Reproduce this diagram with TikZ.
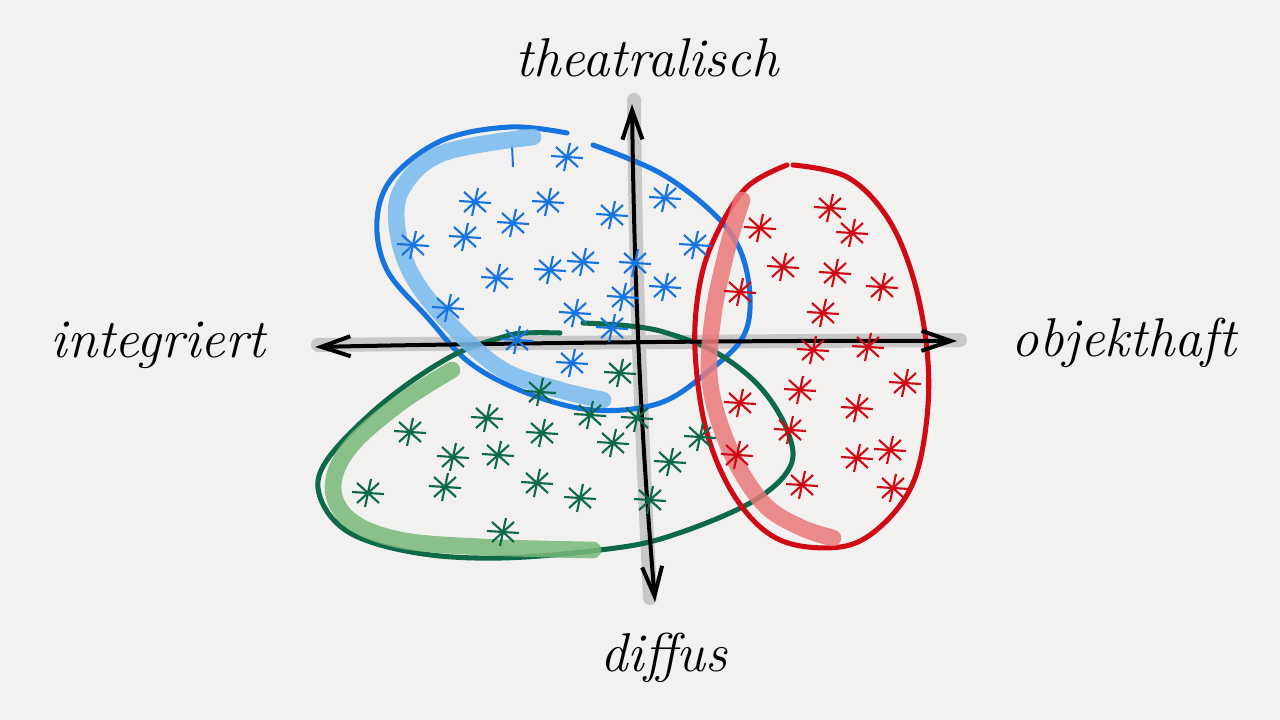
\documentclass[tikz,border=0pt]{standalone}
\usepackage{tikz}
\usetikzlibrary{arrows.meta}

\definecolor{paper}{RGB}{243,241,239}
\definecolor{penblue}{RGB}{22,116,224}
\definecolor{pengreen}{RGB}{12,106,72}
\definecolor{penred}{RGB}{208,10,20}
\definecolor{markblue}{RGB}{120,186,240}
\definecolor{markgreen}{RGB}{120,184,120}
\definecolor{markred}{RGB}{234,120,122}
\definecolor{shadow}{RGB}{200,200,200}

\tikzset{every picture/.style={line width=0.75pt}}
\tikzset{
  axis/.style={line width=3pt, line cap=round, {Straight Barb[length=22pt,width=15pt,line width=3pt]}-{Straight Barb[length=22pt,width=15pt,line width=3pt]}},
  axisshade/.style={line width=10.5pt, line cap=round, shadow},
  loop/.style={line width=3.8pt, line cap=round},
  marker/.style={line width=12.5pt, line cap=round, opacity=0.85},
  handlabel/.style={font=\fontsize{41}{43}\selectfont\itshape},
  asterisk/.pic={
    \draw (-16,1) -- (16,-1);
    \draw (-3,-14) -- (3,14);
    \draw (-11,-10) -- (11,10);
    \draw (-11,10) -- (11,-10);
  },
  bluestar/.style={line width=1.6pt, draw=penblue},
  greenstar/.style={line width=1.6pt, draw=pengreen},
  redstar/.style={line width=1.6pt, draw=penred}
}

\begin{document}
\begin{tikzpicture}[x=0.75pt,y=0.75pt,yscale=-1,xscale=1]
		\fill[paper] (0,0) rectangle (1280,720);
		\useasboundingbox (0,0) rectangle (1280,720);
		% Axis ends
		\coordinate (top) at (632,104);
		\coordinate (bottom) at (655,602);
		\coordinate (left) at (315,347);
		\coordinate (right) at (957,341);
		%Shape: Axis shadows
		\draw[axisshade] (634,100) .. controls (636,330) and (644,470) .. (650,598);
		\draw[axisshade] (318,345) .. controls (500,343) and (800,341) .. (960,340);
		%Shape: Blue loop
		\draw[loop, penblue] plot[smooth, tension=0.6] coordinates {(593,145) (660,173) (713,213) (740,250) (750,297) (743,337) (710,370) (660,403) (593,410) (527,393) (470,363) (427,317) (387,270) (377,220) (393,177) (443,140) (510,127) (567,133)};
		\draw[penblue, line width=1.5pt] (512,145) -- (513,167);
		%Shape: Green loop
		\draw[loop, pengreen] plot[smooth, tension=0.6] coordinates {(560,333) (527,333) (503,337) (450,357) (383,403) (327,460) (320,497) (350,533) (417,553) (500,558) (600,550) (667,537) (750,503) (790,467) (787,430) (760,387) (717,353) (667,333) (630,326) (583,323)};
		%Shape: Red loop
		\draw[loop, penred] plot[smooth, tension=0.6] coordinates {(793,165) (847,177) (887,217) (913,277) (927,350) (927,417) (913,483) (880,527) (840,547) (780,540) (737,500) (707,433) (695,350) (700,283) (717,233) (747,187) (787,165)};
		%Shape: Axes
		\draw[axis] (top) .. controls (635,340) and (645,480) .. (bottom);
		\draw[axis] (left) .. controls (500,343) and (800,340) .. (right);
		%Shape: Markers
		\draw[marker, markblue] plot[smooth, tension=0.6] coordinates {(533,137) (443,153) (403,187) (397,227) (413,277) (453,327) (503,370) (560,390) (603,400)};
		\draw[marker, markgreen] plot[smooth, tension=0.6] coordinates {(452,370) (400,403) (350,447) (333,487) (350,520) (400,540) (483,547) (593,550)};
		\draw[marker, markred] plot[smooth, tension=0.6] coordinates {(742,200) (727,250) (713,317) (710,383) (730,450) (763,503) (800,527) (833,538)};
		% Blue stars
		\pic[bluestar] at (567,157) {asterisk};
		\pic[bluestar] at (475,202) {asterisk};
		\pic[bluestar] at (548,202) {asterisk};
		\pic[bluestar] at (513,223) {asterisk};
		\pic[bluestar] at (465,237) {asterisk};
		\pic[bluestar] at (413,245) {asterisk};
		\pic[bluestar] at (612,215) {asterisk};
		\pic[bluestar] at (665,198) {asterisk};
		\pic[bluestar] at (695,245) {asterisk};
		\pic[bluestar] at (497,278) {asterisk};
		\pic[bluestar] at (550,270) {asterisk};
		\pic[bluestar] at (583,262) {asterisk};
		\pic[bluestar] at (635,263) {asterisk};
		\pic[bluestar] at (665,287) {asterisk};
		\pic[bluestar] at (623,297) {asterisk};
		\pic[bluestar] at (575,313) {asterisk};
		\pic[bluestar] at (448,308) {asterisk};
		\pic[bluestar] at (517,340) {asterisk};
		\pic[bluestar] at (612,328) {asterisk};
		\pic[bluestar] at (572,363) {asterisk};
		% Green stars
		\pic[greenstar] at (620,373) {asterisk};
		\pic[greenstar] at (540,392) {asterisk};
		\pic[greenstar] at (590,415) {asterisk};
		\pic[greenstar] at (637,418) {asterisk};
		\pic[greenstar] at (487,418) {asterisk};
		\pic[greenstar] at (410,432) {asterisk};
		\pic[greenstar] at (542,433) {asterisk};
		\pic[greenstar] at (453,457) {asterisk};
		\pic[greenstar] at (498,455) {asterisk};
		\pic[greenstar] at (613,443) {asterisk};
		\pic[greenstar] at (700,437) {asterisk};
		\pic[greenstar] at (670,462) {asterisk};
		\pic[greenstar] at (368,493) {asterisk};
		\pic[greenstar] at (445,487) {asterisk};
		\pic[greenstar] at (537,483) {asterisk};
		\pic[greenstar] at (580,498) {asterisk};
		\pic[greenstar] at (650,500) {asterisk};
		\pic[greenstar] at (503,532) {asterisk};
		% Red stars
		\pic[redstar] at (830,208) {asterisk};
		\pic[redstar] at (852,233) {asterisk};
		\pic[redstar] at (760,228) {asterisk};
		\pic[redstar] at (783,267) {asterisk};
		\pic[redstar] at (835,273) {asterisk};
		\pic[redstar] at (882,287) {asterisk};
		\pic[redstar] at (740,292) {asterisk};
		\pic[redstar] at (823,313) {asterisk};
		\pic[redstar] at (813,350) {asterisk};
		\pic[redstar] at (868,347) {asterisk};
		\pic[redstar] at (800,390) {asterisk};
		\pic[redstar] at (905,383) {asterisk};
		\pic[redstar] at (857,408) {asterisk};
		\pic[redstar] at (740,403) {asterisk};
		\pic[redstar] at (790,430) {asterisk};
		\pic[redstar] at (737,455) {asterisk};
		\pic[redstar] at (857,458) {asterisk};
		\pic[redstar] at (890,450) {asterisk};
		\pic[redstar] at (893,488) {asterisk};
		\pic[redstar] at (802,485) {asterisk};
		% Text Node
		\node[handlabel] (theatralisch) at (647,58) {theatralisch};
		% Text Node
		\node[handlabel] (integriert) at (158,345) {integriert};
		% Text Node
		\node[handlabel] (objekthaft) at (1124,343) {objekthaft};
		% Text Node
		\node[handlabel] (diffus) at (664,658) {diffus};
\end{tikzpicture}
\end{document}
